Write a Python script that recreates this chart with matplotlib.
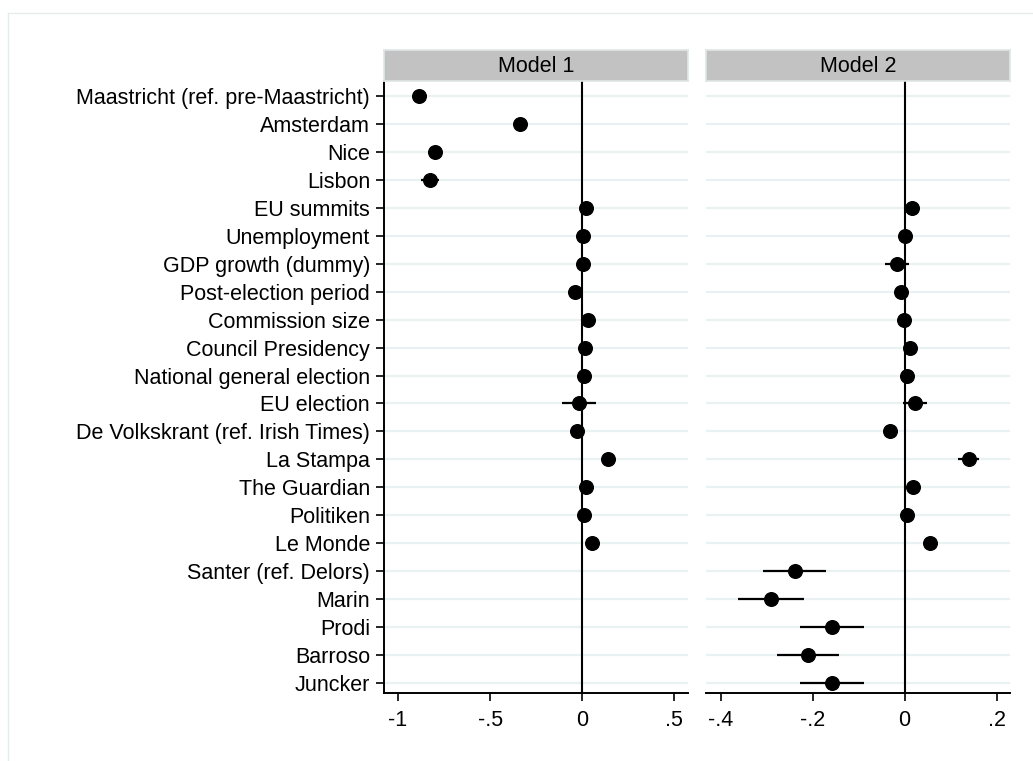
import matplotlib
matplotlib.use("Agg")
import matplotlib.pyplot as plt
import numpy as np
from matplotlib.lines import Line2D

plt.rcParams['font.family'] = ['Liberation Sans', 'DejaVu Sans']

labels = ["Maastricht (ref. pre-Maastricht)", "Amsterdam", "Nice", "Lisbon",
          "EU summits", "Unemployment", "GDP growth (dummy)", "Post-election period",
          "Commission size", "Council Presidency", "National general election",
          "EU election", "De Volkskrant (ref. Irish Times)", "La Stampa",
          "The Guardian", "Politiken", "Le Monde", "Santer (ref. Delors)",
          "Marin", "Prodi", "Barroso", "Juncker"]

nan = np.nan
m1_coef = [-0.886, -0.34, -0.80, -0.826, 0.018, 0.002, 0.003, -0.038, 0.031, 0.013,
           0.009, -0.018, -0.031, 0.14, 0.02, 0.007, 0.053, nan, nan, nan, nan, nan]
m1_lo = [-0.92, -0.355, -0.835, -0.875, 0.012, -0.004, -0.004, -0.045, 0.025, 0.007,
         0.003, -0.112, -0.037, 0.134, 0.014, 0.001, 0.047, nan, nan, nan, nan, nan]
m1_hi = [-0.84, -0.325, -0.76, -0.776, 0.024, 0.008, 0.010, -0.031, 0.037, 0.019,
         0.015, 0.076, -0.025, 0.146, 0.026, 0.013, 0.059, nan, nan, nan, nan, nan]

m2_coef = [nan, nan, nan, nan, 0.015, 0.0, -0.017, -0.007, -0.001, 0.012,
           0.006, 0.022, -0.033, 0.14, 0.018, 0.006, 0.054, -0.238, -0.29, -0.157,
           -0.21, -0.158]
m2_lo = [nan, nan, nan, nan, 0.011, -0.004, -0.043, -0.016, -0.005, 0.008,
         0.002, -0.003, -0.037, 0.117, 0.014, 0.002, 0.050, -0.309, -0.362, -0.228,
         -0.278, -0.228]
m2_hi = [nan, nan, nan, nan, 0.019, 0.004, 0.009, 0.003, 0.003, 0.016,
         0.010, 0.048, -0.029, 0.162, 0.022, 0.010, 0.058, -0.171, -0.218, -0.088,
         -0.143, -0.089]

panel_titles = ["Model 1", "Model 2"]
m1_ticks = [-1, -0.5, 0, 0.5]
m1_ticklabels = ["-1", "-.5", "0", ".5"]
m2_ticks = [-0.4, -0.2, 0, 0.2]
m2_ticklabels = ["-.4", "-.2", "0", ".2"]

W, H = 1033, 761
fig = plt.figure(figsize=(W / 100, H / 100), dpi=100)

# faint outer frame
fig.add_artist(Line2D([8 / W, 8 / W], [0, 1 - 13 / H], transform=fig.transFigure,
                      color="#e6ecee", lw=1))
fig.add_artist(Line2D([8 / W, 1], [1 - 13 / H, 1 - 13 / H], transform=fig.transFigure,
                      color="#e6ecee", lw=1))

ax_bottom = 1 - 693 / H
ax_top = 1 - 81 / H
ax_h = ax_top - ax_bottom
hdr_h = 31 / H

ypos = np.arange(len(labels))[::-1]

panels = [
    (384, 688, (-1.076, 0.574), m1_coef, m1_lo, m1_hi, m1_ticks, m1_ticklabels),
    (706, 1010, (-0.432, 0.229), m2_coef, m2_lo, m2_hi, m2_ticks, m2_ticklabels),
]

fs = 15.5
for k, (x0, x1, xl, coef, lo, hi, ticks, tl) in enumerate(panels):
    ax = fig.add_axes([x0 / W, ax_bottom, (x1 - x0) / W, ax_h])
    ax.set_xlim(*xl)
    ax.set_ylim(-0.358, 21.537)
    for y in ypos:
        ax.axhline(y, color="#eaf1f3", lw=1.6, zorder=0)
    ax.axvline(0, color="black", lw=1.5, zorder=1)
    c = np.array(coef, dtype=float)
    l = np.array(lo, dtype=float)
    h = np.array(hi, dtype=float)
    ok = ~np.isnan(c)
    ax.hlines(ypos[ok], l[ok], h[ok], color="black", lw=1.6, zorder=2)
    ax.plot(c[ok], ypos[ok], "o", color="black", ms=9.8, zorder=3)
    ax.set_xticks(ticks)
    ax.set_xticklabels(tl, fontsize=fs)
    for s in ["top", "right"]:
        ax.spines[s].set_visible(False)
    ax.spines["bottom"].set_linewidth(1.4)
    ax.tick_params(axis="x", length=6, width=1.2, pad=6)
    if k == 0:
        ax.set_yticks(ypos)
        ax.set_yticklabels(labels, fontsize=fs)
        ax.spines["left"].set_linewidth(1.4)
        ax.tick_params(axis="y", length=6, width=1.2, pad=4)
    else:
        ax.set_yticks([])
        ax.spines["left"].set_visible(False)
    # header strip
    hax = fig.add_axes([x0 / W, ax_top, (x1 - x0) / W, hdr_h])
    hax.set_xticks([]); hax.set_yticks([])
    hax.set_facecolor("#c2c2c2")
    for s in hax.spines.values():
        s.set_color("#dfe6e6")
        s.set_linewidth(1.2)
    hax.text(0.5, 0.47, panel_titles[k], ha="center", va="center", fontsize=fs,
             transform=hax.transAxes)

fig.savefig("out.png", dpi=100, facecolor="white")
